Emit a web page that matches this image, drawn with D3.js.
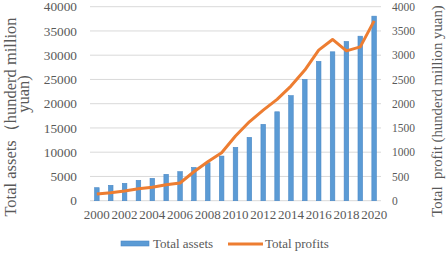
<!DOCTYPE html>
<html>
<head>
<meta charset="utf-8">
<script src="https://cdn.jsdelivr.net/npm/d3@7"></script>
<style>
  body { margin: 0; background: #fff; }
  text { font-family: "Liberation Serif", "Times New Roman", serif; fill: #595959; }
</style>
</head>
<body>
<div id="chart"></div>
<script>
// Data
const years = d3.range(2000, 2021);
const totalAssets = [2680, 3170, 3580, 4200, 4610, 5440, 5980, 6850, 7830, 9200, 11000,
    13060, 15740, 18330, 21650, 25000, 28720, 30700, 32830, 33920, 38050];
const totalProfits = [138, 165, 200, 247, 276, 330, 365, 597, 803, 989, 1333,
    1627, 1868, 2090, 2363, 2693, 3105, 3325, 3090, 3172, 3708];
const leftTicks = [0, 5000, 10000, 15000, 20000, 25000, 30000, 35000, 40000];
const rightTicks = [0, 500, 1000, 1500, 2000, 2500, 3000, 3500, 4000];
const xTickYears = years.filter(y => y % 2 === 0);

const W = 447, H = 254;
const margin = { top: 6.7, right: 66, bottom: 53.3, left: 90 };
const width = W - margin.left - margin.right;
const height = H - margin.top - margin.bottom;

const svg = d3.select("#chart")
    .append("svg")
    .attr("width", W)
    .attr("height", H);

const g = svg.append("g")
    .attr("transform", `translate(${margin.left},${margin.top})`);

// Scales
const x = d3.scaleBand()
    .domain(years)
    .range([0, width])
    .paddingInner(0.67)
    .paddingOuter(0.33);

const yLeft = d3.scaleLinear().domain([0, 40000]).range([height, 0]);
const yRight = d3.scaleLinear().domain([0, 4000]).range([height, 0]);

// Gridlines
g.append("g")
    .selectAll("line")
    .data(leftTicks)
    .join("line")
    .attr("x1", 0)
    .attr("x2", width)
    .attr("y1", d => yLeft(d))
    .attr("y2", d => yLeft(d))
    .attr("stroke", "#d9d9d9")
    .attr("stroke-width", 1);

function styleAxis(sel, size) {
    sel.select(".domain").remove();
    sel.selectAll("text")
        .style("font-size", size)
        .style("font-family", "Liberation Serif, serif")
        .attr("fill", "#595959");
}

// Left axis
g.append("g")
    .call(d3.axisLeft(yLeft).tickValues(leftTicks).tickFormat(d3.format("d")).tickSize(0).tickPadding(13))
    .call(styleAxis, "13.3px");

// Right axis
g.append("g")
    .attr("transform", `translate(${width},0)`)
    .call(d3.axisRight(yRight).tickValues(rightTicks).tickFormat(d3.format("d")).tickSize(0).tickPadding(11))
    .call(styleAxis, "11.5px");

// Bottom axis
g.append("g")
    .attr("transform", `translate(0,${height})`)
    .call(d3.axisBottom(x).tickValues(xTickYears).tickSize(0).tickPadding(9))
    .call(styleAxis, "13px");

// Bars
g.append("g")
    .selectAll("rect")
    .data(years)
    .join("rect")
    .attr("x", (d) => x(d))
    .attr("y", (d, i) => yLeft(totalAssets[i]))
    .attr("width", x.bandwidth())
    .attr("height", (d, i) => height - yLeft(totalAssets[i]))
    .attr("fill", "#5b9bd5")
    .attr("stroke", "#4a88c6")
    .attr("stroke-width", 0.6);

// Profit line
const line = d3.line()
    .x((d, i) => x(years[i]) + x.bandwidth() / 2)
    .y(d => yRight(d));

g.append("path")
    .datum(totalProfits)
    .attr("fill", "none")
    .attr("stroke", "#ed7d31")
    .attr("stroke-width", 3)
    .attr("stroke-linejoin", "round")
    .attr("d", line);

// Axis titles
svg.append("text")
    .attr("transform", "translate(16,117) rotate(-90)")
    .attr("text-anchor", "middle")
    .style("font-size", "16.5px")
    .text("Total assets（hunderd million");
svg.append("text")
    .attr("transform", "translate(29,94) rotate(-90)")
    .attr("text-anchor", "middle")
    .style("font-size", "16.5px")
    .text("yuan)");

svg.append("text")
    .attr("transform", "translate(442,111) rotate(-90)")
    .attr("text-anchor", "middle")
    .style("font-size", "14.8px")
    .style("white-space", "pre")
    .text("Total  profit (hunderd million yuan)");

// Legend
const legend = svg.append("g");
legend.append("rect")
    .attr("x", 121).attr("y", 241)
    .attr("width", 28).attr("height", 5)
    .attr("fill", "#5b9bd5")
    .attr("stroke", "#4a88c6")
    .attr("stroke-width", 0.6);
legend.append("text")
    .attr("x", 153).attr("y", 248)
    .style("font-size", "13px")
    .text("Total assets");
legend.append("line")
    .attr("x1", 228).attr("x2", 263)
    .attr("y1", 244).attr("y2", 244)
    .attr("stroke", "#ed7d31")
    .attr("stroke-width", 3);
legend.append("text")
    .attr("x", 265).attr("y", 248)
    .style("font-size", "13px")
    .text("Total profits");
</script>
</body>
</html>
